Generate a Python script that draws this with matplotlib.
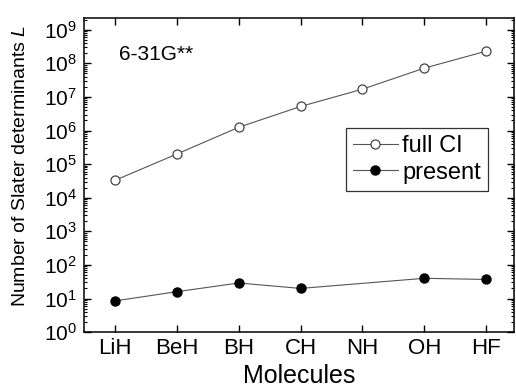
import numpy as np
import matplotlib
matplotlib.use("Agg")
import matplotlib.pyplot as plt
from matplotlib.ticker import LogLocator, NullFormatter

plt.rcParams['font.family'] = ['Liberation Sans', 'DejaVu Sans']
plt.rcParams['mathtext.fontset'] = 'custom'
plt.rcParams['mathtext.rm'] = 'Liberation Sans'
plt.rcParams['mathtext.it'] = 'Liberation Sans:italic'

molecules = ["LiH", "BeH", "BH", "CH", "NH", "OH", "HF"]
full_ci = [3.3e4, 2.0e5, 1.25e6, 5.2e6, 1.7e7, 7.2e7, 2.3e8]
present = [8.5, 16, 29, 20, np.nan, 40, 37]

fig = plt.figure(figsize=(5.16, 3.88), dpi=100)
ax = fig.add_axes([0.163, 0.144, 0.833, 0.809])

x = np.arange(len(molecules))
pres = np.array(present)
ok = ~np.isnan(pres)

ax.plot(x, full_ci, '-o', color='#555555', lw=0.8, ms=6.5,
        mfc='white', mec='#444444', mew=0.9, label='full CI')
ax.plot(x[ok], pres[ok], '-o', color='#555555', lw=0.8, ms=6.5,
        mfc='black', mec='black', label='present')

ax.set_yscale('log')
ax.set_ylim(1, 2.2e9)
ax.set_xlim(-0.5, 6.45)
ax.set_xticks(x)
ax.set_xticklabels(molecules)
ax.yaxis.set_major_locator(LogLocator(base=10, numticks=15))
ax.yaxis.set_minor_locator(LogLocator(base=10, subs=np.arange(2, 10), numticks=15))
ax.yaxis.set_minor_formatter(NullFormatter())

ax.tick_params(which='major', direction='in', length=5, width=1,
               top=True, right=True, labelsize=16, pad=4)
ax.tick_params(axis='y', which='major', labelsize=15, pad=5)
ax.tick_params(which='minor', direction='in', length=2.5, width=0.8, right=True)
ax.tick_params(axis='x', which='minor', bottom=False, top=False)
for s in ax.spines.values():
    s.set_linewidth(1.1)

ax.set_xlabel("Molecules", fontsize=18, labelpad=4)
ax.set_ylabel("Number of Slater determinants $L$", fontsize=14)
ax.yaxis.set_label_coords(-0.128, 0.53)
ax.text(0.081, 0.886, "6-31G**", transform=ax.transAxes, fontsize=15,
        va='center', ha='left')

leg = ax.legend(loc='upper right', bbox_to_anchor=(0.94, 0.651), fontsize=17,
                fancybox=False, edgecolor='#333333', framealpha=1,
                borderaxespad=0, handlelength=1.9, handletextpad=0.2,
                labelspacing=0.2, borderpad=0.3)
leg.get_frame().set_linewidth(0.9)

fig.savefig("out.png", dpi=100)
